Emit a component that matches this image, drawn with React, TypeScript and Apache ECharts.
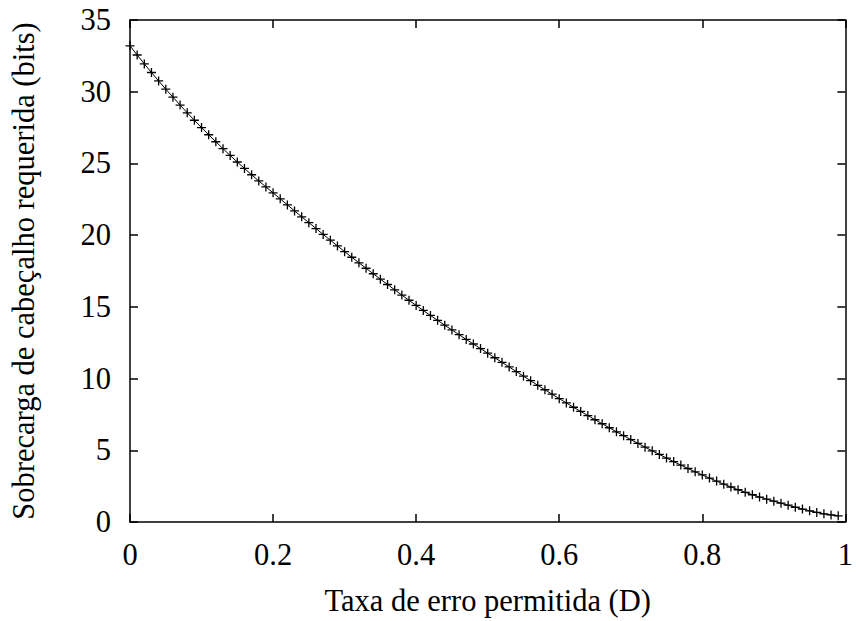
import React, { useEffect, useRef } from "react";
import * as echarts from "echarts";

const errorRates: number[] = [
  0.0, 0.01, 0.02, 0.03, 0.04, 0.05, 0.06, 0.07, 0.08, 0.09,
  0.1, 0.11, 0.12, 0.13, 0.14, 0.15, 0.16, 0.17, 0.18, 0.19,
  0.2, 0.21, 0.22, 0.23, 0.24, 0.25, 0.26, 0.27, 0.28, 0.29,
  0.3, 0.31, 0.32, 0.33, 0.34, 0.35, 0.36, 0.37, 0.38, 0.39,
  0.4, 0.41, 0.42, 0.43, 0.44, 0.45, 0.46, 0.47, 0.48, 0.49,
  0.5, 0.51, 0.52, 0.53, 0.54, 0.55, 0.56, 0.57, 0.58, 0.59,
  0.6, 0.61, 0.62, 0.63, 0.64, 0.65, 0.66, 0.67, 0.68, 0.69,
  0.7, 0.71, 0.72, 0.73, 0.74, 0.75, 0.76, 0.77, 0.78, 0.79,
  0.8, 0.81, 0.82, 0.83, 0.84, 0.85, 0.86, 0.87, 0.88, 0.89,
  0.9, 0.91, 0.92, 0.93, 0.94, 0.95, 0.96, 0.97, 0.98, 0.99,
];

const overheadBits: number[] = [
  33.2, 32.56, 31.94, 31.34, 30.75, 30.18, 29.62, 29.07, 28.53, 28.01,
  27.5, 27.0, 26.51, 26.03, 25.56, 25.1, 24.65, 24.21, 23.78, 23.36,
  22.95, 22.53, 22.11, 21.69, 21.28, 20.87, 20.46, 20.05, 19.65, 19.25,
  18.85, 18.46, 18.07, 17.69, 17.31, 16.93, 16.56, 16.19, 15.82, 15.46,
  15.1, 14.75, 14.4, 14.06, 13.72, 13.39, 13.06, 12.73, 12.41, 12.09,
  11.77, 11.45, 11.13, 10.81, 10.49, 10.17, 9.85, 9.53, 9.22, 8.91,
  8.6, 8.3, 8.0, 7.71, 7.42, 7.13, 6.85, 6.57, 6.29, 6.02,
  5.75, 5.48, 5.22, 4.96, 4.71, 4.46, 4.21, 3.97, 3.73, 3.5,
  3.28, 3.06, 2.85, 2.64, 2.44, 2.25, 2.07, 1.9, 1.74, 1.59,
  1.45, 1.31, 1.17, 1.03, 0.9, 0.78, 0.67, 0.57, 0.49, 0.43,
];

const xTicks: number[] = [0, 0.2, 0.4, 0.6, 0.8, 1];
const yTicks: number[] = [0, 5, 10, 15, 20, 25, 30, 35];

const FONT = "'Liberation Serif', 'DejaVu Serif', serif";

export default function App() {
  const ref = useRef<HTMLDivElement>(null);

  useEffect(() => {
    if (!ref.current) return;
    const chart = echarts.init(ref.current, undefined, { renderer: "svg" });
    const axisLine = { show: true, onZero: false, lineStyle: { color: "#000", width: 1.5 } };
    const axisTick = { show: true, inside: true, length: 8, lineStyle: { color: "#000", width: 1.5 } };
    const labelStyle = { color: "#000", fontFamily: FONT, fontSize: 30.5 };

    chart.setOption({
      animation: false,
      backgroundColor: "#fff",
      grid: { left: 127, right: 9, top: 20, bottom: 94, containLabel: false },
      xAxis: [
        {
          type: "value",
          min: xTicks[0],
          max: xTicks[xTicks.length - 1],
          interval: 0.2,
          position: "bottom",
          axisLine,
          axisTick,
          splitLine: { show: false },
          axisLabel: { ...labelStyle, margin: 17 },
          name: "Taxa de erro permitida (D)",
          nameLocation: "middle",
          nameGap: 63,
          nameTextStyle: { ...labelStyle },
        },
        {
          type: "value",
          min: xTicks[0],
          max: xTicks[xTicks.length - 1],
          interval: 0.2,
          position: "top",
          axisLine,
          axisTick,
          splitLine: { show: false },
          axisLabel: { show: false },
        },
      ],
      yAxis: [
        {
          type: "value",
          min: yTicks[0],
          max: yTicks[yTicks.length - 1],
          interval: 5,
          position: "left",
          axisLine,
          axisTick,
          splitLine: { show: false },
          axisLabel: { ...labelStyle, margin: 19 },
          name: "Sobrecarga de cabeçalho requerida (bits)",
          nameLocation: "middle",
          nameGap: 91,
          nameTextStyle: { ...labelStyle },
        },
        {
          type: "value",
          min: yTicks[0],
          max: yTicks[yTicks.length - 1],
          interval: 5,
          position: "right",
          axisLine,
          axisTick,
          splitLine: { show: false },
          axisLabel: { show: false },
        },
      ],
      series: [
        {
          type: "line",
          xAxisIndex: 0,
          yAxisIndex: 0,
          data: errorRates.map((x, i) => [x, overheadBits[i]]),
          lineStyle: { color: "#000", width: 1 },
          symbol: "path://M5,0 L5,10 M0,5 L10,5",
          symbolSize: 9,
          showSymbol: true,
          showAllSymbol: true,
          itemStyle: { color: "none", borderColor: "#000", borderWidth: 1.3 },
          emphasis: { disabled: true },
        },
      ],
    });
    return () => chart.dispose();
  }, []);

  return (
    <div
      ref={ref}
      style={{ position: "fixed", left: 0, top: 0, width: 856, height: 621, background: "#fff" }}
    />
  );
}
